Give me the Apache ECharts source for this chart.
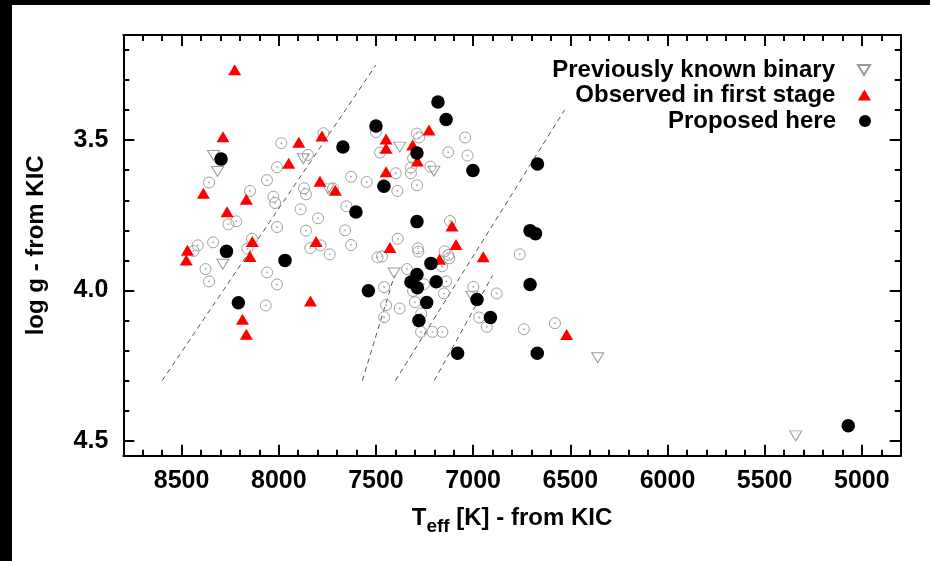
<!DOCTYPE html>
<html>
<head>
<meta charset="utf-8">
<script src="https://cdn.jsdelivr.net/npm/echarts@6/dist/echarts.min.js"></script>
<style>
html,body{margin:0;padding:0;background:#fff;}
#chart{width:930px;height:561px;}
</style>
</head>
<body>
<div id="chart"></div>
<script>
// ---- Data: [Teff (K), log g] ----
const sampleStars = [
  [7987,3.510],[7770,3.477],[7850,3.549],[8009,3.590],[8061,3.633],[8148,3.669],[8359,3.641],[8028,3.688],
  [8019,3.709],[7870,3.660],[7860,3.680],[7721,3.660],[7888,3.730],[7798,3.760],[7628,3.622],[7548,3.639],
  [7652,3.720],[7659,3.800],[7860,3.801],[8009,3.789],[8219,3.770],[8259,3.780],[8138,3.828],[8338,3.840],
  [8417,3.850],[8439,3.869],[7628,3.849],[7838,3.859],[7785,3.850],[7738,3.880],[8161,3.861],[8377,3.929],
  [8359,3.970],[8060,3.940],[8009,3.980],[8067,4.050],
  [7500,3.473],[7290,3.478],[7278,3.491],[7041,3.491],[7128,3.540],[7029,3.551],[7479,3.541],[7309,3.560],
  [7220,3.588],[7320,3.591],[7320,3.610],[7398,3.610],[7390,3.669],[7289,3.650],
  [7119,3.769],[7388,3.828],[7284,3.860],[7282,3.871],[7147,3.870],[7128,3.882],[7123,3.893],[7469,3.887],
  [7492,3.890],[6760,3.880],[7340,3.929],[7160,3.920],[7139,3.970],[7253,3.979],[7150,4.010],[7309,4.002],
  [7458,3.989],[7448,4.049],[7378,4.060],[7299,4.039],[7458,4.089],[7267,4.077],[7268,4.138],[7209,4.138],
  [7158,4.138],[6999,3.988],[6879,4.010],[6969,4.090],[6930,4.121],[6739,4.129],[6579,4.109]
];
const knownBinary = [
  [8336,3.551],[8315,3.604],[7874,3.562],[7746,3.662],[8288,3.913],[7378,3.523],[7202,3.603],
  [7407,3.942],[7007,4.019],[6359,4.224],[5340,4.484]
];
const firstStage = [
  [8227,3.266],[8287,3.489],[8388,3.677],[8266,3.738],[8167,3.697],[7897,3.507],[7778,3.486],[7949,3.577],
  [7788,3.637],[7709,3.667],[8136,3.837],[7808,3.837],[8470,3.866],[8476,3.899],[8148,3.887],[8187,4.096],
  [8167,4.146],[7837,4.035],[7448,3.496],[7448,3.527],[7311,3.516],[7227,3.466],[7287,3.569],[7448,3.605],
  [7109,3.786],[7088,3.847],[7428,3.857],[7173,3.896],[6948,3.888],[6519,4.147]
];
const proposedHere = [
  [8297,3.563],[7500,3.453],[7181,3.373],[7139,3.431],[7670,3.523],[7289,3.543],[7459,3.653],[7603,3.739],
  [7289,3.771],[8269,3.870],[7968,3.900],[7001,3.601],[6669,3.579],[6707,3.801],[6679,3.811],[6707,3.980],
  [6980,4.030],[6911,4.090],[6670,4.209],[5070,4.450],[8208,4.041],[7539,4.001],[7080,4.209],[7217,3.910],
  [7289,3.947],[7320,3.972],[7287,3.991],[7190,3.971],[7239,4.040],[7279,4.100]
];
const stripLines = [
  [[8600,4.30],[7500,3.25]],
  [[7570,4.30],[7405,3.95]],
  [[7400,4.30],[6530,3.40]],
  [[7200,4.30],[6900,3.95]]
];
// ---- Ticks ----
const xMajorTicks = [5000,5500,6000,6500,7000,7500,8000,8500];
const xMinorTicks = [4900,5000,5100,5200,5300,5400,5500,5600,5700,5800,5900,6000,6100,6200,6300,6400,6500,6600,6700,6800,
                     6900,7000,7100,7200,7300,7400,7500,7600,7700,7800,7900,8000,8100,8200,8300,8400,8500,8600,8700];
const yMajorTicks = [3.5,4.0,4.5];
const yMinorTicks = [3.2,3.3,3.4,3.5,3.6,3.7,3.8,3.9,4.0,4.1,4.2,4.3,4.4,4.5];
const legendNames = ['Previously known binary','Observed in first stage','Proposed here'];

const FONT = '"Liberation Sans", Arial, Helvetica, sans-serif';
const downTri = 'path://M0,0L12,0L6,10Z';
const upTri = 'path://M6,0L12,10L0,10Z';
const X_MIN = 4800, X_MAX = 8800, Y_MIN = 3.15, Y_MAX = 4.55;

function xAxisDef(pos, ticks, len, showLine, labels) {
  return {
    type: 'value', position: pos, min: X_MIN, max: X_MAX, inverse: true,
    axisLine: {show: showLine, onZero: false, lineStyle: {color: '#000', width: 2}},
    axisTick: {show: true, inside: true, length: len, customValues: ticks, lineStyle: {color: '#000', width: 2}},
    axisLabel: labels ? {show: true, customValues: ticks, margin: 13, color: '#000',
      fontSize: 25, fontWeight: 'bold', fontFamily: FONT, formatter: v => String(v)} : {show: false},
    splitLine: {show: false}
  };
}
function yAxisDef(pos, ticks, len, showLine, labels) {
  return {
    type: 'value', position: pos, min: Y_MIN, max: Y_MAX, inverse: true,
    axisLine: {show: showLine, onZero: false, lineStyle: {color: '#000', width: 2}},
    axisTick: {show: true, inside: true, length: len, customValues: ticks, lineStyle: {color: '#000', width: 2}},
    axisLabel: labels ? {show: true, customValues: ticks, margin: 15, color: '#000',
      fontSize: 25, fontWeight: 'bold', fontFamily: FONT, formatter: v => v.toFixed(1)} : {show: false},
    splitLine: {show: false}
  };
}

const xAxes = [
  xAxisDef('bottom', xMajorTicks, 11, true, true),
  xAxisDef('bottom', xMinorTicks, 6, false, false),
  xAxisDef('top', xMajorTicks, 11, true, false),
  xAxisDef('top', xMinorTicks, 6, false, false)
];
Object.assign(xAxes[0], {
  name: '{t|T}{s|eff}{t| [K] - from KIC}',
  nameLocation: 'middle', nameGap: 45,
  nameTextStyle: {
    color: '#000',
    rich: {
      t: {fontSize: 24, fontWeight: 'bold', fontFamily: FONT, color: '#000', verticalAlign: 'middle'},
      s: {fontSize: 19, fontWeight: 'bold', fontFamily: FONT, color: '#000', verticalAlign: 'middle', padding: [17,0,0,0]}
    }
  }
});
const yAxes = [
  yAxisDef('left', yMajorTicks, 11, true, true),
  yAxisDef('left', yMinorTicks, 6, false, false),
  yAxisDef('right', yMajorTicks, 11, true, false),
  yAxisDef('right', yMinorTicks, 6, false, false)
];
Object.assign(yAxes[0], {
  name: 'log g - from KIC', nameLocation: 'middle', nameGap: 75, nameRotate: 90,
  nameTextStyle: {color: '#000', fontSize: 24, fontWeight: 'bold', fontFamily: FONT}
});

const series = [];
stripLines.forEach((seg, i) => {
  series.push({
    name: 'strip' + i, type: 'line', data: seg, symbol: 'none', silent: true, z: 1,
    lineStyle: {color: '#555', width: 1, type: [5, 4]}
  });
});
series.push({
  name: 'KIC sample', type: 'scatter', data: sampleStars, symbol: 'circle', symbolSize: 11, z: 2,
  itemStyle: {color: 'rgba(0,0,0,0)', borderColor: '#a0a0a0', borderWidth: 1, opacity: 1}
});
series.push({
  name: 'KIC sample centre', type: 'scatter', data: sampleStars, symbol: 'circle', symbolSize: 2, z: 2,
  itemStyle: {color: '#b0b0b0', opacity: 1}
});
series.push({
  name: legendNames[0], type: 'scatter', data: knownBinary, symbol: downTri, symbolSize: [12, 10], z: 3,
  itemStyle: {color: 'rgba(0,0,0,0)', borderColor: '#9a9a9a', borderWidth: 1, opacity: 1}
});
series.push({
  name: legendNames[1], type: 'scatter', data: firstStage, symbol: upTri, symbolSize: [13, 11], z: 4,
  itemStyle: {color: '#ff0000', opacity: 1}
});
series.push({
  name: legendNames[2], type: 'scatter', data: proposedHere, symbol: 'circle', symbolSize: 13.5, z: 5,
  itemStyle: {color: '#000', opacity: 1}
});

const legendIcons = [downTri, upTri, 'circle'];
const legendTops = [58, 83, 109];
const legendHeights = [10, 11, 12];
const legends = legendNames.map((n, i) => ({
  data: [{name: n, icon: legendIcons[i]}],
  orient: 'vertical', align: 'right', right: 59, top: legendTops[i], padding: 0,
  itemWidth: 48, itemHeight: legendHeights[i], selectedMode: false,
  textStyle: {fontSize: 24, fontWeight: 'bold', fontFamily: FONT, color: '#000'}
}));

const chart = echarts.init(document.getElementById('chart'), null, {renderer: 'canvas'});
chart.setOption({
  backgroundColor: '#fff',
  animation: false,
  grid: {left: 123.3, top: 35, right: 29.3, bottom: 105.3, containLabel: false},
  xAxis: xAxes,
  yAxis: yAxes,
  legend: legends,
  series: series,
  graphic: [
    {type: 'rect', left: 0, top: 0, shape: {width: 930, height: 5}, style: {fill: '#000'}, z: 100},
    {type: 'rect', left: 0, top: 0, shape: {width: 12, height: 561}, style: {fill: '#000'}, z: 100}
  ]
});
</script>
</body>
</html>
